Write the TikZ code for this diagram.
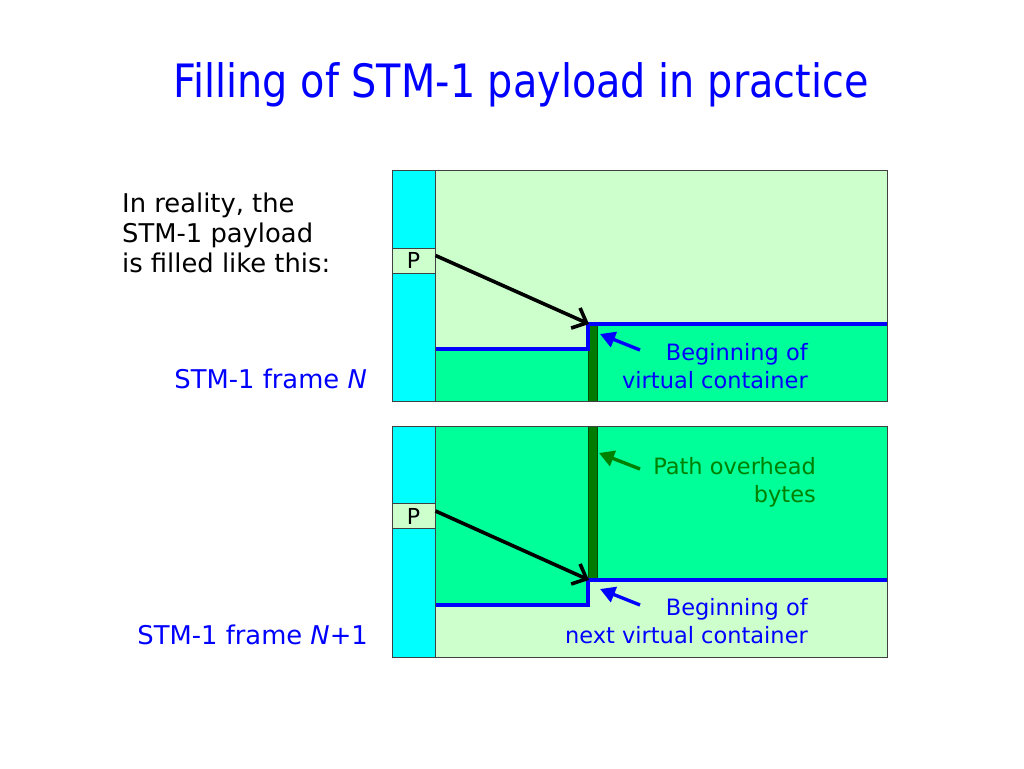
\documentclass[tikz,border=0pt]{standalone}
\usepackage{fontspec}
\setmainfont{DejaVu Sans}
\newfontfamily\titlefont[FakeStretch=0.865]{DejaVu Sans}
\usetikzlibrary{arrows.meta}

\definecolor{paleg}{HTML}{CCFFCC}
\definecolor{fillg}{HTML}{00FF99}
\definecolor{ohcyan}{HTML}{00FFFF}
\definecolor{pohg}{HTML}{007A00}
\definecolor{pohedge}{HTML}{004D00}
\definecolor{slideblue}{HTML}{0000FF}
\definecolor{pohtext}{HTML}{008000}

\begin{document}
\begin{tikzpicture}[x=1pt,y=-1pt,
	outline/.style={draw=black!75, line width=1pt},
	pbox/.style={draw=black!75, line width=1pt, fill=paleg, minimum width=43pt, minimum height=25pt, inner sep=0pt, font=\fontsize{22}{24}\selectfont},
	ptr/.style={line width=3.6pt, -{Straight Barb[length=12pt,width=22pt]}},
	bound/.style={slideblue, line width=3.4pt},
	note/.style={line width=3.4pt, -{Triangle[length=15pt,width=16pt]}},
	lbl/.style={align=right, inner sep=0pt, font=\fontsize{22.5}{27.5}\selectfont},
	side/.style={inner sep=0pt, font=\fontsize{25.8}{30}\selectfont}
]

\def\frl{392}
\def\pll{435}
\def\frr{887}
\def\pohl{588}
\def\pohr{597}

\path [use as bounding box, fill=white] (0,0) rectangle (1024,768);

% TITLE
\node [anchor=base, text=slideblue, inner sep=0pt, font=\titlefont\fontsize{46}{50}\selectfont] (title) at (521,97) {Filling of STM-1 payload in practice};

% TEXT
\node [side, anchor=base west, align=left] (intro) at (122,272) {In reality, the\\STM-1 payload\\is filled like this:};
\node [side, anchor=base east, text=slideblue] (fn1) at (367,388) {STM-1 frame \textit{N}};
\node [side, anchor=base east, text=slideblue] (fn2) at (368,644) {STM-1 frame \textit{N}+1};

% FRAME N
\fill [paleg] (\pll,170) rectangle (\frr,401);
\fill [fillg] (\pll,349) -- (\pohl,349) -- (\pohl,324) -- (\frr,324) -- (\frr,401) -- (\pll,401) -- cycle;
\filldraw [fill=pohg, draw=pohedge, line width=0.8pt] (\pohl,324) rectangle (\pohr,401);
\draw [bound] (\pll,349) -- (\pohl,349) -- (\pohl,324) -- (\frr,324);
\filldraw [fill=ohcyan, outline] (\frl,170) rectangle (\pll,401);
\node [pbox] (p1) at (413.5,260.5) {P};
\draw [outline] (\frl,170) rectangle (\frr,401);

\coordinate (vc1) at (589,324);
\coordinate (tip1) at (600,334);
\coordinate (tail1) at (640,350);
\draw [ptr] ([yshift=5pt]p1.east) -- (vc1);
\node [lbl, anchor=base east, text=slideblue] (beg1) at (808,388) {Beginning of\\virtual container};
\draw [note, slideblue] (tail1) -- (tip1);

% FRAME N+1
\fill [fillg] (\pll,426) rectangle (\frr,657);
\fill [paleg] (\pll,605) -- (\pohl,605) -- (\pohl,580) -- (\frr,580) -- (\frr,657) -- (\pll,657) -- cycle;
\filldraw [fill=pohg, draw=pohedge, line width=0.8pt] (\pohl,426) rectangle (\pohr,580);
\draw [bound] (\pll,605) -- (\pohl,605) -- (\pohl,580) -- (\frr,580);
\filldraw [fill=ohcyan, outline] (\frl,426) rectangle (\pll,657);
\node [pbox] (p2) at (413.5,516) {P};
\draw [outline] (\frl,426) rectangle (\frr,657);

\coordinate (vc2) at (589,580);
\coordinate (tip2) at (600,589);
\coordinate (tail2) at (640,605);
\coordinate (tip3) at (599,453);
\coordinate (tail3) at (640,469);
\draw [ptr] ([yshift=5pt]p2.east) -- (vc2);
\node [lbl, anchor=base east, text=pohtext] (poh) at (816,502) {Path overhead\\bytes};
\draw [note, pohtext] (tail3) -- (tip3);
\node [lbl, anchor=base east, text=slideblue] (beg2) at (808,643) {Beginning of\\next virtual container};
\draw [note, slideblue] (tail2) -- (tip2);

\end{tikzpicture}
\end{document}
